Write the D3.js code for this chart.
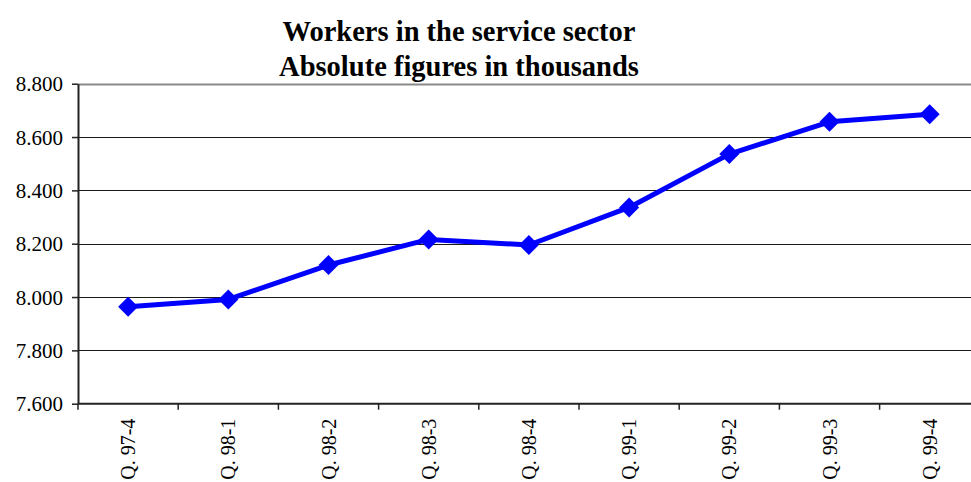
<!DOCTYPE html>
<html>
<head>
<meta charset="utf-8">
<script src="https://cdn.jsdelivr.net/npm/d3@7/dist/d3.min.js"></script>
<style>
  html, body { margin: 0; padding: 0; background: #fff; overflow: hidden; }
  svg { display: block; }
</style>
</head>
<body>
<svg id="chart" width="971" height="482"></svg>
<script>
// Quarterly counts of service-sector workers (thousands)
const quarters = ["Q. 97-4", "Q. 98-1", "Q. 98-2", "Q. 98-3", "Q. 98-4", "Q. 99-1", "Q. 99-2", "Q. 99-3", "Q. 99-4"];
const workers = [7964, 7991, 8120, 8216, 8195, 8336, 8536, 8657, 8685];
const yTicks = [7600, 7800, 8000, 8200, 8400, 8600, 8800];
const titleLines = ["Workers in the service sector", "Absolute figures in thousands"];

const FONT = "'Liberation Serif', 'Times New Roman', serif";
const svg = d3.select("#chart");
const plot = { left: 78, top: 83.7, bottom: 403.7, step: 100.2 };

const x = d3.scaleBand()
  .domain(quarters)
  .range([plot.left, plot.left + plot.step * quarters.length])
  .paddingInner(0).paddingOuter(0);

const y = d3.scaleLinear()
  .domain([d3.min(yTicks), d3.max(yTicks)])
  .range([plot.bottom, plot.top]);

const fmt = v => d3.format(",")(v).replace(",", ".");

// horizontal gridlines
svg.append("g")
  .selectAll("line")
  .data(yTicks.filter(v => v > d3.min(yTicks)))
  .join("line")
  .attr("x1", plot.left)
  .attr("x2", 971)
  .attr("y1", d => Math.round(y(d)) + 0.5)
  .attr("y2", d => Math.round(y(d)) + 0.5)
  .attr("stroke", d => d === d3.max(yTicks) ? "#8a8a8a" : "#1a1a1a")
  .attr("stroke-width", d => d === d3.max(yTicks) ? 2 : 1);

// y axis
const yAxis = svg.append("g")
  .attr("transform", `translate(${plot.left},0)`)
  .call(d3.axisLeft(y).tickValues(yTicks).tickFormat(fmt).tickSizeInner(6).tickSizeOuter(0).tickPadding(9));
yAxis.select(".domain").attr("stroke", "#222").attr("stroke-width", 2);
yAxis.selectAll(".tick line").attr("stroke", "#222").attr("stroke-width", 1.5);
yAxis.selectAll(".tick text")
  .attr("fill", "#000")
  .attr("dy", "0.34em")
  .style("font-size", "21px")
  .style("font-family", FONT);

// x axis: ticks at category boundaries, labels rotated at centres
const xAxis = svg.append("g")
  .attr("transform", `translate(0,${plot.bottom})`);
xAxis.append("line")
  .attr("x1", plot.left).attr("x2", 971)
  .attr("y1", 0).attr("y2", 0)
  .attr("stroke", "#222").attr("stroke-width", 2);
xAxis.selectAll("line.tick")
  .data(quarters)
  .join("line")
  .attr("class", "tick")
  .attr("x1", d => x(d)).attr("x2", d => x(d))
  .attr("y1", 0).attr("y2", 6)
  .attr("stroke", "#222").attr("stroke-width", 1.5);
xAxis.selectAll("text")
  .data(quarters)
  .join("text")
  .attr("transform", d => `translate(${x(d) + x.bandwidth() / 2 + 7},15) rotate(-90)`)
  .attr("text-anchor", "end")
  .attr("fill", "#000")
  .style("font-size", "20px")
  .style("font-family", FONT)
  .text(d => d);

// series line
const line = d3.line()
  .x((d, i) => x(quarters[i]) + x.bandwidth() / 2)
  .y(d => y(d));

svg.append("path")
  .datum(workers)
  .attr("d", line)
  .attr("fill", "none")
  .attr("stroke", "#0000ff")
  .attr("stroke-width", 5)
  .attr("stroke-linejoin", "round");

// diamond markers
const diamond = d3.symbol().type(d3.symbolSquare).size(200);
svg.append("g")
  .selectAll("path")
  .data(workers)
  .join("path")
  .attr("d", diamond)
  .attr("transform", (d, i) => `translate(${x(quarters[i]) + x.bandwidth() / 2},${y(d)}) rotate(45)`)
  .attr("fill", "#0000ff");

// title
svg.append("g")
  .selectAll("text")
  .data(titleLines)
  .join("text")
  .attr("x", 459)
  .attr("y", (d, i) => 41 + i * 34.5)
  .attr("text-anchor", "middle")
  .attr("fill", "#000")
  .style("font-family", FONT)
  .style("font-weight", "bold")
  .style("font-size", "28.5px")
  .text(d => d);
</script>
</body>
</html>
